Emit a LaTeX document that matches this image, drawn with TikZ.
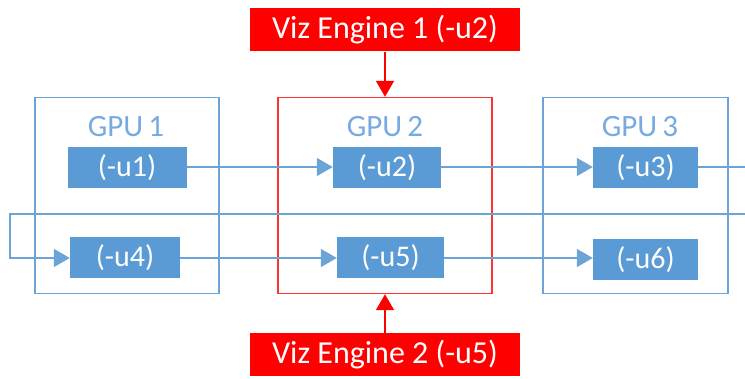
\documentclass[tikz,border=0pt]{standalone}
\usepackage{fontspec}
\setmainfont{Carlito}
\usetikzlibrary{arrows.meta}
\definecolor{ublue}{RGB}{91,155,213}
\definecolor{lblue}{RGB}{108,164,216}
\definecolor{gtext}{RGB}{120,170,225}
\definecolor{vred}{RGB}{255,0,0}
\begin{document}
\begin{tikzpicture}[x=1pt,y=-1pt,
  gpubox/.style={draw=lblue,line width=1.3pt,minimum width=#1,minimum height=196pt,inner sep=0pt},
  gpured/.style={draw=vred!80,line width=1.4pt,minimum width=#1,minimum height=196pt,inner sep=0pt},
  ubox/.style={fill=ublue,text=white,font=\fontsize{30}{32}\selectfont,minimum height=41pt,minimum width=#1,inner sep=0pt},
  vizbox/.style={fill=vred,text=white,font=\fontsize{32}{34}\selectfont,minimum width=270pt,minimum height=43pt,inner sep=0pt},
  gpulabel/.style={text=gtext,font=\fontsize{31}{33}\selectfont,inner sep=0pt},
  conn/.style={draw=lblue,line width=1.4pt,-{Triangle[length=16pt,width=18pt]}},
  plain/.style={draw=lblue,line width=1.4pt},
  redarrow/.style={draw=vred,line width=1.6pt,-{Triangle[length=16pt,width=18pt]}}]
\useasboundingbox (0,0) rectangle (745,379);
% GPU boxes
\node[gpubox=184pt] (g1) at (127,195.5) {};
\node[gpured=214pt] (g2) at (385,195.5) {};
\node[gpubox=185pt] (g3) at (635.5,195.5) {};
\node[gpulabel] (l1) at (126,127) {GPU\,1};
\node[gpulabel] (l2) at (385,127) {GPU\,2};
\node[gpulabel] (l3) at (640,127) {GPU\,3};
% unit boxes
\node[ubox=119pt] (u1) at (127,167.5) {(-u1)};
\node[ubox=110pt] (u4) at (125,258) {(-u4)};
\node[ubox=108pt] (u2) at (387,167.5) {(-u2)};
\node[ubox=107pt] (u5) at (390.5,258) {(-u5)};
\node[ubox=105pt] (u3) at (645.5,167.5) {(-u3)};
\node[ubox=105pt] (u6) at (645.5,259.5) {(-u6)};
% viz engines
\node[vizbox] (v1) at (385,30) {Viz Engine 1 (-u2)};
\node[vizbox] (v2) at (385,355) {Viz Engine 2 (-u5)};
% coordinates
\coordinate (r1) at (745,167);
\coordinate (fr) at (745,214);
\coordinate (fl) at (10,214);
\coordinate (fd) at (10,258);
% connectors
\draw[conn] (u1.east |- 0,167) -- (u2.west |- 0,167);
\draw[conn] (u2.east |- 0,167) -- (u3.west |- 0,167);
\draw[plain] (u3.east |- 0,167) -- (r1);
\draw[conn] (fr) -- (fl) -- (fd) -- (u4.west |- 0,258);
\draw[conn] (u4.east |- 0,258) -- (u5.west |- 0,258);
\draw[conn] (u5.east |- 0,258) -- (u6.west |- 0,258);
\draw[redarrow] (v1.south) -- (v1.south |- g2.north);
\draw[redarrow] (v2.north) -- (v2.north |- g2.south);
\end{tikzpicture}
\end{document}
